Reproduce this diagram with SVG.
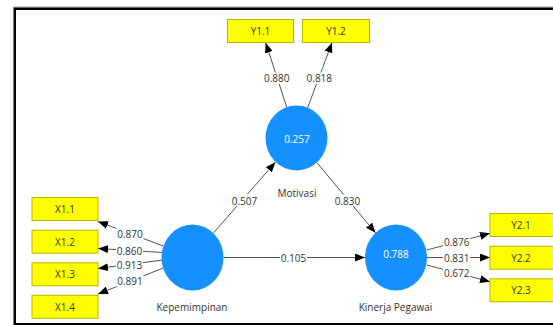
<svg xmlns="http://www.w3.org/2000/svg" width="553" height="325" viewBox="0 0 553 325">
<style>
.box{fill:#ffff00;stroke:#b8b800;stroke-width:1}
.bt{font-family:"Open Sans","Noto Sans",sans-serif;font-size:10px;fill:#333;text-anchor:middle;dominant-baseline:central}
.lv{fill:#1591ff}
.ct{font-family:"Open Sans","Noto Sans",sans-serif;font-size:10px;fill:#fff;text-anchor:middle;dominant-baseline:central}
.nl{font-family:"Open Sans","Noto Sans",sans-serif;font-size:10px;fill:#333;text-anchor:middle;dominant-baseline:central}
.ln{stroke:#555;stroke-width:1;fill:none;marker-end:url(#ah)}
.lb{fill:#fff}
.lt{font-family:"Open Sans","Noto Sans",sans-serif;font-size:10px;fill:#333;text-anchor:middle;dominant-baseline:central}
</style>
<defs>
<marker id="ah" markerUnits="userSpaceOnUse" markerWidth="10" markerHeight="8" refX="10" refY="4" orient="auto" viewBox="0 0 10 8">
<path d="M0,0 L10,4 L0,8 Z" fill="#000"/>
</marker>
</defs>
<rect x="0" y="0" width="553" height="325" fill="#fff"/>
<line x1="13" y1="7" x2="553" y2="7" stroke="#aaa" stroke-width="1"/>
<rect x="14.75" y="8.75" width="600" height="315.5" fill="none" stroke="#000" stroke-width="2.5"/>

<g id="connectors">
<line class="ln" x1="287" y1="108" x2="265.7" y2="42.7"/>
<line class="ln" x1="307.5" y1="108" x2="332" y2="42.7"/>
<line class="ln" x1="213.6" y1="232.8" x2="275.4" y2="162.2"/>
<line class="ln" x1="317" y1="162.7" x2="375.5" y2="232.8"/>
<line class="ln" x1="223.5" y1="257.5" x2="365" y2="257.5"/>
<line class="ln" x1="163.3" y1="246" x2="98" y2="221.5"/>
<line class="ln" x1="163" y1="252.5" x2="98" y2="248.5"/>
<line class="ln" x1="163" y1="260" x2="98" y2="268.5"/>
<line class="ln" x1="163.3" y1="268" x2="98" y2="294"/>
<line class="ln" x1="426.7" y1="250" x2="490" y2="233.3"/>
<line class="ln" x1="426.7" y1="257.5" x2="490" y2="257.5"/>
<line class="ln" x1="426.7" y1="265" x2="490" y2="281.7"/>
<g id="labels">
<rect class="lb" x="263.5" y="72.5" width="27" height="11.5"/><text class="lt" x="276.7" y="78.3">0.880</text>
<rect class="lb" x="306" y="72.5" width="27" height="11.5"/><text class="lt" x="319.3" y="78.3">0.818</text>
<rect class="lb" x="231" y="194.5" width="27" height="11.5"/><text class="lt" x="244.5" y="200.5">0.507</text>
<rect class="lb" x="334" y="194.5" width="27" height="11.5"/><text class="lt" x="347.5" y="200.5">0.830</text>
<rect class="lb" x="280" y="251.7" width="27" height="11.5"/><text class="lt" x="293.5" y="257.5">0.105</text>
<rect class="lb" x="116.5" y="227.7" width="27" height="11.5"/><text class="lt" x="130" y="233.5">0.870</text>
<rect class="lb" x="116" y="245" width="27" height="11"/><text class="lt" x="129.5" y="250.5">0.860</text>
<rect class="lb" x="116" y="259" width="27" height="11"/><text class="lt" x="129.5" y="264.5">0.913</text>
<rect class="lb" x="116.5" y="275.2" width="27" height="11.5"/><text class="lt" x="130" y="281">0.891</text>
<rect class="lb" x="443.2" y="236.5" width="27" height="11.5"/><text class="lt" x="456.7" y="242.3">0.876</text>
<rect class="lb" x="443.2" y="251.7" width="27" height="11.5"/><text class="lt" x="456.7" y="257.5">0.831</text>
<rect class="lb" x="443.2" y="267.5" width="27" height="11.5"/><text class="lt" x="456.7" y="273.3">0.672</text>
</g>
</g>

<g id="Motivasi">
<ellipse class="lv" cx="296.5" cy="138" rx="31" ry="32.5"/>
<text class="ct" x="297" y="139">0.257</text>
<text class="nl" x="297" y="193">Motivasi</text>
</g>
<g id="Kepemimpinan">
<ellipse class="lv" cx="192.5" cy="257.5" rx="31" ry="33"/>
<text class="nl" x="192" y="307">Kepemimpinan</text>
</g>
<g id="KinerjaPegawai">
<ellipse class="lv" cx="396" cy="257.5" rx="31" ry="33"/>
<text class="ct" x="396" y="254">0.788</text>
<text class="nl" x="395.5" y="307">Kinerja Pegawai</text>
</g>

<g id="Y1.1"><rect class="box" x="227.5" y="19.5" width="66" height="23"/><text class="bt" x="260.5" y="31">Y1.1</text></g>
<g id="Y1.2"><rect class="box" x="302.5" y="19.5" width="67" height="23"/><text class="bt" x="336" y="31">Y1.2</text></g>
<g id="X1.1"><rect class="box" x="32" y="197.5" width="66" height="23"/><text class="bt" x="65" y="209">X1.1</text></g>
<g id="X1.2"><rect class="box" x="32" y="230.2" width="66" height="23"/><text class="bt" x="65" y="241.7">X1.2</text></g>
<g id="X1.3"><rect class="box" x="32" y="262.8" width="66" height="23"/><text class="bt" x="65" y="274.3">X1.3</text></g>
<g id="X1.4"><rect class="box" x="32" y="295.3" width="66" height="23"/><text class="bt" x="65" y="306.8">X1.4</text></g>
<g id="Y2.1"><rect class="box" x="490" y="213.5" width="66" height="23"/><text class="bt" x="521" y="225">Y2.1</text></g>
<g id="Y2.2"><rect class="box" x="490" y="246.2" width="66" height="23"/><text class="bt" x="521" y="257.7">Y2.2</text></g>
<g id="Y2.3"><rect class="box" x="490" y="278.8" width="66" height="23"/><text class="bt" x="521" y="290.3">Y2.3</text></g>
</svg>
